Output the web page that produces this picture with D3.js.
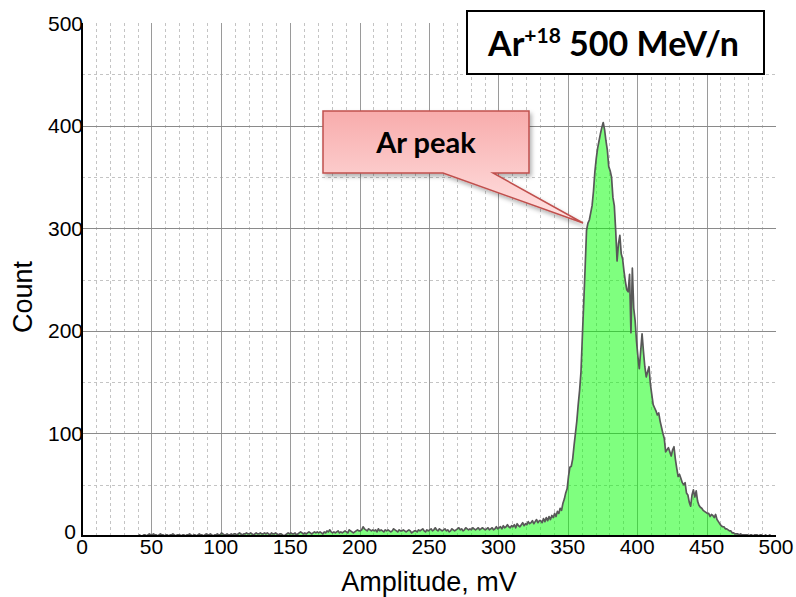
<!DOCTYPE html>
<html>
<head>
<meta charset="utf-8">
<script src="https://cdn.jsdelivr.net/npm/d3@7"></script>
<style>
  html, body { margin: 0; padding: 0; background: #fff; }
  svg { display: block; }
</style>
</head>
<body>
<svg id="chart" width="796" height="597"></svg>
<script>
// ---------- DATA ----------
const binStart = 0;      // mV, first bin
const binWidth = 1;      // mV per bin
const counts = [
  // 0-39
  0,0,0,0,0,0,0,0,0,0, 0,0,0,0,0,0,0,0,0,0, 0,0,0,0,0,0,0,0,0,0, 0,0,0,0,0,0,0,0,0,0,
  // 40-99
  0,1,0,0,1,1,0,1,2,1, 1,2,1,1,0,1,2,1,1,0, 1,1,0,1,1,2,1,0,1,1,
  1,0,1,1,0,1,1,2,1,0, 1,1,0,1,2,1,1,0,1,2, 1,1,2,1,0,1,1,2,1,1,
  // 100-149
  3,2,1,1,2,1,1,2,1,2, 2,1,2,3,2,1,2,2,3,2, 2,3,2,1,2,3,2,2,3,2,
  2,3,2,3,2,1,3,2,2,3, 2,1,2,2,1,0,1,2,3,2,
  // 150-199
  3,2,2,3,1,2,3,4,3,2, 3,2,3,4,3,2,3,4,3,4, 3,4,3,2,4,3,5,4,6,4,
  3,4,3,4,5,3,4,3,4,5, 4,3,6,5,4,3,4,5,6,5,
  // 200-249
  5,6,9,7,6,5,7,6,5,6, 5,6,4,7,5,6,5,4,6,5, 6,5,4,5,7,6,5,4,6,5,
  5,6,5,4,5,6,5,3,4,5, 5,4,6,5,6,7,5,4,6,5,
  // 250-299
  6,7,5,6,8,6,5,7,6,5, 6,7,5,6,4,5,7,6,5,6, 7,8,6,7,5,6,8,7,6,7,
  6,8,7,6,7,8,6,7,8,7, 6,7,8,6,7,8,6,7,9,7,
  // 300-339
  8,9,7,10,8,9,11,9,8,10, 9,11,8,12,10,9,11,13,10,12,
  11,14,12,13,15,12,14,16,13,15, 15,13,17,14,18,15,19,16,20,18,
  // 340-359
  22,19,24,22,27,25,32,36,42,46, 58,67,68,75,88,100,112,128,142,160,
  // 360-379
  195,228,262,298,305,308,315,322,336,355, 368,378,385,392,398,403,396,385,376,360,
  // 380-399
  356,350,330,322,298,268,285,293,275,270, 258,248,240,238,255,198,261,222,210,190,
  // 400-419
  175,163,180,197,180,165,155,160,165,148, 138,128,125,122,118,120,112,106,100,95,
  // 420-439
  82,84,86,82,78,84,87,75,66,58, 60,56,52,50,52,42,40,33,29,40,
  // 440-459
  45,38,44,34,30,28,27,25,24,23, 22,22,19,21,20,18,21,16,14,12,
  // 460-479
  10,9,9,7,7,6,5,5,3,3, 2,2,2,1,2,1,1,1,1,1,
  // 480-499
  0,1,1,0,1,1,1,0,1,1, 0,0,1,0,0,1,0,0,0,0
];
const xTicks = [0, 50, 100, 150, 200, 250, 300, 350, 400, 450, 500];
const yTicks = [0, 100, 200, 300, 400, 500];
const xLabel = "Amplitude, mV";
const yLabel = "Count";
const titleMain = "Ar";
const titleSup = "+18";
const titleRest = " 500 MeV/n";
const calloutText = "Ar peak";

// ---------- LAYOUT ----------
const svg = d3.select("#chart");
const L = 82, R = 776, T = 23, B = 536;

const x = d3.scaleLinear().domain([0, 500]).range([L, R]);
const y = d3.scaleLinear().domain([0, 500]).range([B, T]);

const gridG = svg.append("g");
// minor vertical dotted
d3.range(10, 500, 10).filter(v => v % 50 !== 0).forEach(v => {
  gridG.append("line")
    .attr("x1", Math.round(x(v)) + 0.5).attr("x2", Math.round(x(v)) + 0.5).attr("y1", T).attr("y2", B)
    .attr("stroke", "#c4c4c4").attr("stroke-width", 1).attr("stroke-dasharray", "3,3");
});
// minor horizontal dotted
d3.range(50, 500, 100).forEach(v => {
  gridG.append("line")
    .attr("x1", L).attr("x2", R).attr("y1", Math.round(y(v)) + 0.5).attr("y2", Math.round(y(v)) + 0.5)
    .attr("stroke", "#c4c4c4").attr("stroke-width", 1).attr("stroke-dasharray", "3,3");
});
// major vertical
xTicks.filter(v => v > 0 && v < 500).forEach(v => {
  gridG.append("line")
    .attr("x1", Math.round(x(v)) + 0.5).attr("x2", Math.round(x(v)) + 0.5).attr("y1", T).attr("y2", B)
    .attr("stroke", "#9a9a9a").attr("stroke-width", 1);
});
// major horizontal
yTicks.filter(v => v > 0 && v < 500).forEach(v => {
  gridG.append("line")
    .attr("x1", L).attr("x2", R).attr("y1", Math.round(y(v)) + 0.5).attr("y2", Math.round(y(v)) + 0.5)
    .attr("stroke", "#8a8a8a").attr("stroke-width", 1);
});

// ---------- HISTOGRAM ----------
const pts = counts.map((c, i) => ({ v: binStart + (i + 0.5) * binWidth, c }));
const area = d3.area().x(d => x(d.v)).y0(y(0)).y1(d => y(d.c));
const line = d3.line().x(d => x(d.v)).y(d => y(d.c));
svg.append("path").datum(pts).attr("d", area)
  .attr("fill", "rgba(0,255,0,0.5)");
svg.append("path").datum(pts).attr("d", line)
  .attr("fill", "none").attr("stroke", "#585858").attr("stroke-width", 1.7)
  .attr("stroke-linejoin", "round");

// ---------- AXES ----------
svg.append("line").attr("x1", L).attr("x2", L).attr("y1", T).attr("y2", B + 1)
  .attr("stroke", "#000").attr("stroke-width", 2);
svg.append("line").attr("x1", L - 1).attr("x2", R).attr("y1", B).attr("y2", B)
  .attr("stroke", "#000").attr("stroke-width", 2);

const tickFont = "'Liberation Sans', Arial, sans-serif";
svg.append("g").selectAll("text").data(yTicks).join("text")
  .attr("x", d => d === 0 ? L - 6 : L + 1).attr("y", d => d === 0 ? y(d) + 3 : y(d) + 7.5)
  .attr("text-anchor", "end")
  .attr("font-family", tickFont).attr("font-size", 21).attr("fill", "#000")
  .text(d => d);
svg.append("g").selectAll("text").data(xTicks).join("text")
  .attr("x", d => x(d)).attr("y", B + 18)
  .attr("text-anchor", "middle")
  .attr("font-family", tickFont).attr("font-size", 21).attr("fill", "#000")
  .text(d => d);

svg.append("text").attr("x", 429).attr("y", 591)
  .attr("text-anchor", "middle")
  .attr("font-family", tickFont).attr("font-size", 27).attr("fill", "#000")
  .text(xLabel);
svg.append("text").attr("transform", "translate(32,297) rotate(-90)")
  .attr("text-anchor", "middle")
  .attr("font-family", tickFont).attr("font-size", 27).attr("fill", "#000")
  .text(yLabel);

// ---------- TITLE BOX ----------
const boldFont = "Lato, 'Open Sans', sans-serif";
svg.append("rect").attr("x", 467).attr("y", 11).attr("width", 297).attr("height", 63)
  .attr("fill", "#fff").attr("stroke", "#000").attr("stroke-width", 2);
const tt = svg.append("text").attr("x", 613.5).attr("y", 56)
  .attr("text-anchor", "middle")
  .attr("font-family", boldFont).attr("font-weight", "bold").attr("font-size", 34).attr("fill", "#000");
tt.append("tspan").text(titleMain);
tt.append("tspan").attr("font-size", 21).attr("dy", -13).text(titleSup);
tt.append("tspan").attr("dy", 13).text(titleRest);

// ---------- CALLOUT ----------
const defs = svg.append("defs");
const grad = defs.append("linearGradient").attr("id", "pinkGrad")
  .attr("x1", 0).attr("y1", 0).attr("x2", 0).attr("y2", 1);
grad.append("stop").attr("offset", "0%").attr("stop-color", "#f8acac");
grad.append("stop").attr("offset", "100%").attr("stop-color", "#ffe4e4");
const filt = defs.append("filter").attr("id", "shadow")
  .attr("x", "-20%").attr("y", "-20%").attr("width", "150%").attr("height", "160%");
filt.append("feDropShadow").attr("dx", 2).attr("dy", 3).attr("stdDeviation", 2)
  .attr("flood-color", "#000").attr("flood-opacity", 0.3);

const cx0 = 323, cy0 = 111, cx1 = 529, cy1 = 173;
const calloutPath = [
  [cx0, cy0], [cx1, cy0], [cx1, cy1], [493, cy1], [583, 223], [443, cy1], [cx0, cy1]
];
svg.append("path")
  .attr("d", d3.line()(calloutPath) + "Z")
  .attr("fill", "url(#pinkGrad)")
  .attr("stroke", "#c0504d").attr("stroke-width", 1.5)
  .attr("stroke-linejoin", "miter")
  .attr("filter", "url(#shadow)");
svg.append("text").attr("x", 426).attr("y", 153)
  .attr("text-anchor", "middle")
  .attr("font-family", boldFont).attr("font-weight", "bold").attr("font-size", 29).attr("fill", "#000")
  .text(calloutText);
</script>
</body>
</html>
